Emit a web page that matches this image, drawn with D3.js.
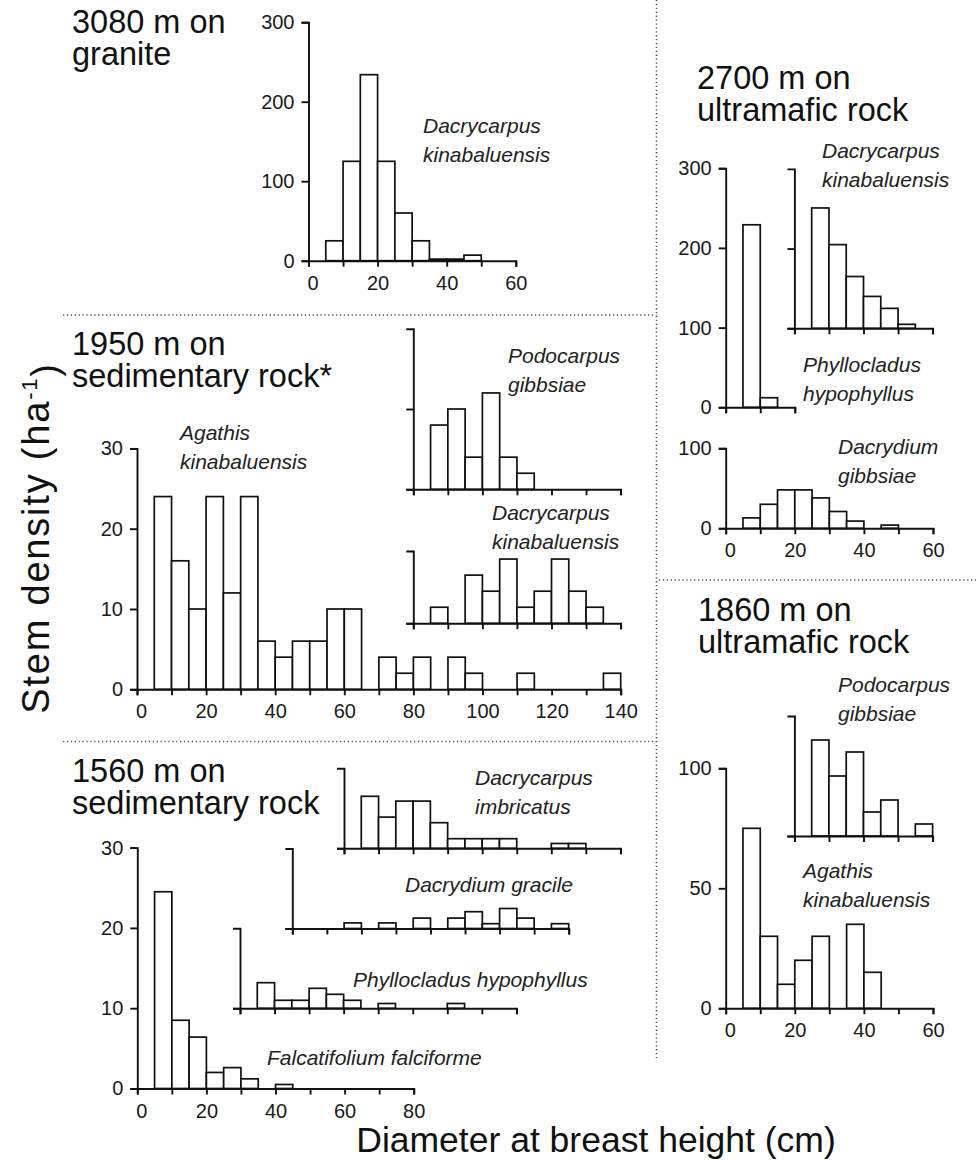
<!DOCTYPE html>
<html><head><meta charset="utf-8">
<script src="https://cdn.jsdelivr.net/npm/d3@7"></script>
<style>
body{margin:0;background:#fff;}
svg{display:block;font-family:"Liberation Sans",Arial,Helvetica,sans-serif;}
</style></head><body>
<svg id="c" width="976" height="1162"></svg>
<script>
// ---------- DATA (stems per ha, 5-cm DBH classes starting at 0) ----------
const binWidth = 5;
// 3080 m on granite
const g3080_DacrycarpusKin = [0,25,125,234,125,60,25,2,2,7,0,0];
// 1950 m on sedimentary rock
const s1950_AgathisKin     = [0,24,16,10,24,12,24,6,4,6,6,10,10,0,4,2,4,0,4,2,0,0,2,0,0,0,0,2];
const s1950_PodocarpusGib  = [0,8,10,4,12,4,2,0,0,0,0,0];
const s1950_DacrycarpusKin = [0,2,0,6,4,8,2,4,8,4,2,0];
// 1560 m on sedimentary rock
const s1560_Falcatifolium  = [0,24.5,8.5,6.4,2,2.6,1.2,0,0.5,0,0,0,0,0,0,0];
const s1560_Phyllocladus   = [0,3.2,1,1,2.5,1.75,1,0,0.6,0,0,0,0.6,0,0,0];
const s1560_DacrydiumGrac  = [0,0,0,0.7,0,0.7,0,1.3,0,1.3,2.1,0.6,2.5,1.3,0,0.6];
const s1560_DacrycarpusImb = [0,6.5,3.9,5.9,5.9,3.2,1.2,1.2,1.2,1.2,0,0,0.6,0.6,0,0];
// 2700 m on ultramafic rock
const u2700_Phyllocladus   = [0,229,12,0];
const u2700_DacrycarpusKin = [0,151,105,65,40,25,5,0];
const u2700_DacrydiumGib   = [0,13,30,48,48,38,21,9,0,4,0,0];
// 1860 m on ultramafic rock
const u1860_AgathisKin     = [0,75,30,10,20,30,0,35,15,0,0,0];
const u1860_PodocarpusGib  = [0,40,25,35,10,15,0,5];

// tick labels
const yTicks300 = [0,100,200,300];
const yTicks30  = [0,10,20,30];
const yTicks100 = [0,100];
const yTicks1860 = [0,50,100];

// ---------- LAYOUT ----------
const svg = d3.select("#c");
const PXX = 3.455; // px per cm DBH (shared by all panels)

function hist(o){
  const x = d3.scaleLinear().domain([0,o.xMax]).range([o.left, o.left + o.xMax*PXX]);
  const y = d3.scaleLinear().domain([0,o.yMax]).range([o.base, o.base - o.yMax*o.pxY]);
  const g = svg.append("g");
  g.selectAll("rect").data(o.data).join("rect")
    .attr("x",(d,i)=>x(i*binWidth))
    .attr("width",x(binWidth)-x(0))
    .attr("y",d=>y(d))
    .attr("height",d=>o.base-y(d))
    .attr("fill","#fff").attr("stroke","#111").attr("stroke-width",1.7);
  const ya = d3.axisLeft(y).tickValues(o.yTicks||[]).tickSize(7).tickSizeOuter(7).tickPadding(7)
    .tickFormat(d=>o.yLabels? d : "");
  const xa = d3.axisBottom(x).tickValues(d3.range(0,o.xMax+0.1,10)).tickSize(6).tickSizeOuter(6).tickPadding(9)
    .tickFormat(d=>o.xLabels && d%20===0 ? d : "");
  const gy = g.append("g").attr("transform",`translate(${o.left},0)`).call(ya);
  const gx = g.append("g").attr("transform",`translate(0,${o.base})`).call(xa);
  [gx,gy].forEach(a=>{
    a.attr("font-family",null).attr("font-size",null);
    a.selectAll("path,line").attr("stroke","#111").attr("stroke-width",1.9);
    a.selectAll("text").attr("fill","#1a1a1a").style("font-size","20px");
  });
  gx.selectAll("text").attr("dx",d=>d===0?"0.2em":null);
}

// 3080 granite
hist({data:g3080_DacrycarpusKin,left:308.5,base:260.7,xMax:60,yMax:300,pxY:238.5/300,yTicks:yTicks300,yLabels:true,xLabels:true});
// 1950 sedimentary
hist({data:s1950_AgathisKin,left:137,base:689.3,xMax:140,yMax:30,pxY:8.03,yTicks:yTicks30,yLabels:true,xLabels:true});
hist({data:s1950_PodocarpusGib,left:413.3,base:489.3,xMax:60,yMax:20,pxY:8.03,yTicks:[0,10]});
hist({data:s1950_DacrycarpusKin,left:413.3,base:623.3,xMax:60,yMax:9,pxY:8.03,yTicks:[0]});
// 1560 sedimentary
hist({data:s1560_Falcatifolium,left:137.3,base:1088.5,xMax:80,yMax:30,pxY:8.03,yTicks:yTicks30,yLabels:true,xLabels:true});
hist({data:s1560_Phyllocladus,left:240,base:1008.3,xMax:80,yMax:10,pxY:8.0,yTicks:[0]});
hist({data:s1560_DacrydiumGrac,left:292.3,base:928.5,xMax:80,yMax:10,pxY:8.0,yTicks:[0]});
hist({data:s1560_DacrycarpusImb,left:344,base:848.3,xMax:80,yMax:10,pxY:8.0,yTicks:[0]});
// 2700 ultramafic
hist({data:u2700_Phyllocladus,left:725.7,base:407.3,xMax:20,yMax:300,pxY:0.797,yTicks:yTicks300,yLabels:true});
hist({data:u2700_DacrycarpusKin,left:794.4,base:328.3,xMax:40,yMax:200,pxY:0.797,yTicks:[0,100]});
hist({data:u2700_DacrydiumGib,left:725.7,base:528.3,xMax:60,yMax:100,pxY:0.80,yTicks:yTicks100,yLabels:true,xLabels:true});
// 1860 ultramafic
hist({data:u1860_AgathisKin,left:725.7,base:1008.3,xMax:60,yMax:100,pxY:2.4,yTicks:yTicks1860,yLabels:true,xLabels:true});
hist({data:u1860_PodocarpusGib,left:794.4,base:836,xMax:40,yMax:50,pxY:2.4,yTicks:[0]});

// ---------- dotted separators ----------
const dots = [[656.5,0,656.5,1058],[63,315,656.5,315],[63,741.5,656.5,741.5],[659,580,976,580]];
svg.selectAll("line.sep").data(dots).join("line").attr("class","sep")
  .attr("x1",d=>d[0]).attr("y1",d=>d[1]).attr("x2",d=>d[2]).attr("y2",d=>d[3])
  .attr("stroke","#555").attr("stroke-width",1.6).attr("stroke-dasharray","1.3,2.6");

// ---------- titles (two lines each) ----------
const titles = [
  [72,33,"3080 m on","granite"],
  [697,89,"2700 m on","ultramafic rock"],
  [72,355,"1950 m on","sedimentary rock*"],
  [72,782,"1560 m on","sedimentary rock"],
  [698,621,"1860 m on","ultramafic rock"]
];
const tt = svg.selectAll("text.title").data(titles).join("text").attr("class","title")
  .attr("x",d=>d[0]).attr("y",d=>d[1])
  .style("font-size","32.5px").attr("fill","#111");
tt.append("tspan").text(d=>d[2]);
tt.append("tspan").attr("x",d=>d[0]).attr("dy",31.5).text(d=>d[3]);

// ---------- species labels ----------
const species = [
  [423,133,"Dacrycarpus","kinabaluensis"],
  [180,440,"Agathis","kinabaluensis"],
  [508,363,"Podocarpus","gibbsiae"],
  [492,520,"Dacrycarpus","kinabaluensis"],
  [475,785,"Dacrycarpus","imbricatus"],
  [405,892,"Dacrydium gracile",""],
  [353,987,"Phyllocladus hypophyllus",""],
  [267,1065,"Falcatifolium falciforme",""],
  [822,158,"Dacrycarpus","kinabaluensis"],
  [803,372,"Phyllocladus","hypophyllus"],
  [838,454,"Dacrydium","gibbsiae"],
  [838,692,"Podocarpus","gibbsiae"],
  [803,878,"Agathis","kinabaluensis"]
];
const st = svg.selectAll("text.sp").data(species).join("text").attr("class","sp")
  .attr("x",d=>d[0]).attr("y",d=>d[1])
  .style("font-size","21px").style("font-style","italic").attr("fill","#222");
st.append("tspan").text(d=>d[2]);
st.filter(d=>d[3]).append("tspan").attr("x",d=>d[0]).attr("dy",29).text(d=>d[3]);

// ---------- axis titles ----------
svg.append("text").attr("x",596).attr("y",1152).attr("text-anchor","middle")
  .style("font-size","35.5px").attr("fill","#111").text("Diameter at breast height (cm)");
const yl = svg.append("text").attr("transform","translate(49,538) rotate(-90)")
  .attr("text-anchor","middle").style("font-size","38px").style("letter-spacing","1.8px").attr("fill","#111");
yl.append("tspan").text("Stem density (ha");
yl.append("tspan").attr("dy","-0.55em").style("font-size","22px").text("-1");
yl.append("tspan").attr("dy","0.55em").text(")");
</script>
</body></html>
